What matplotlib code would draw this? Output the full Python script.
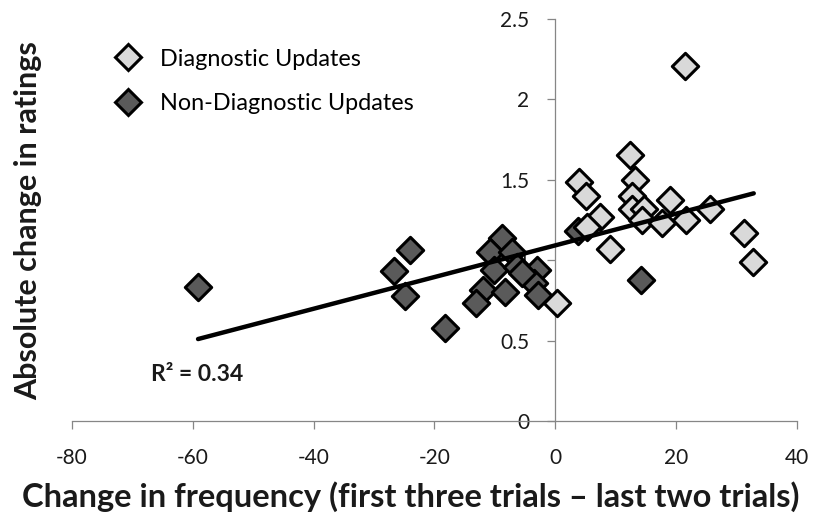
import matplotlib
matplotlib.use("Agg")
import matplotlib.pyplot as plt
from matplotlib.lines import Line2D

plt.rcParams["font.family"] = ["Lato", "DejaVu Sans"]
plt.rcParams["axes.unicode_minus"] = False

# Diagnostic updates (light diamonds)
diag_x = [12.4, 13.2, 3.9, 5.0, 7.3, 5.2, 9.1, 0.2, 12.7, 12.7,
          14.6, 14.4, 19.0, 17.7, 21.6, 25.5, 31.2, 32.7, 21.5]
diag_y = [1.655, 1.50, 1.49, 1.40, 1.27, 1.21, 1.07, 0.734, 1.40, 1.32,
          1.32, 1.25, 1.376, 1.23, 1.25, 1.32, 1.17, 0.99, 2.21]

# Non-diagnostic updates (dark diamonds)
nondiag_x = [-59.1, -24.1, -26.7, -24.8, -18.2, -8.8, -10.8, -7.2, -10.2, -6.3,
             -3.0, -11.9, -13.2, -8.3, -3.6, -2.8, -5.5, 3.7, 14.1]
nondiag_y = [0.837, 1.065, 0.937, 0.78, 0.579, 1.138, 1.055, 1.055, 0.941, 0.961,
             0.941, 0.817, 0.734, 0.806, 0.858, 0.786, 0.92, 1.18, 0.88]

# linear trend line endpoints
trend_x = [-59.1, 32.8]
trend_y = [0.512, 1.417]

x_ticks = [-80, -60, -40, -20, 0, 20, 40]
y_ticks = [0, 0.5, 1, 1.5, 2, 2.5]
y_tick_labels = ["0", "0.5", "1", "1.5", "2", "2.5"]

light = "#d9d9d9"
dark = "#5a5a5a"
axis_gray = "#868686"

fig = plt.figure(figsize=(8.21, 5.21), dpi=100)
ax = fig.add_axes([0.0873, 0.1910, 0.8838, 0.7726])

ax.scatter(nondiag_x, nondiag_y, marker="D", s=180, facecolor=dark,
           edgecolor="black", linewidths=2.2, zorder=3)
ax.scatter(diag_x, diag_y, marker="D", s=180, facecolor=light,
           edgecolor="black", linewidths=2.2, zorder=3)
ax.plot(trend_x, trend_y, color="black", linewidth=3.2,
        solid_capstyle="round", zorder=4)

ax.set_xlim(-80, 40)
ax.set_ylim(0, 2.5)
ax.set_xticks(x_ticks)
ax.set_yticks(y_ticks)
ax.set_yticklabels(y_tick_labels)

for side in ("top", "right"):
    ax.spines[side].set_visible(False)
ax.spines["left"].set_position(("data", 0))
for side in ("left", "bottom"):
    ax.spines[side].set_color(axis_gray)
    ax.spines[side].set_linewidth(0.9)
ax.tick_params(axis="both", direction="out", length=5.8, width=0.9,
               color=axis_gray, labelsize=15, labelcolor="#1a1a1a")
ax.tick_params(axis="x", pad=13)
ax.tick_params(axis="y", pad=13)

ax.text(-66.9, 0.29, "R² = 0.34", fontsize=16.5, fontweight="bold",
        ha="left", va="center", color="#1a1a1a")

handles = [
    Line2D([], [], linestyle="none", marker="D", markersize=13.4,
           markerfacecolor=light, markeredgecolor="black", markeredgewidth=2.2),
    Line2D([], [], linestyle="none", marker="D", markersize=13.4,
           markerfacecolor=dark, markeredgecolor="black", markeredgewidth=2.2),
]
fig.legend(handles, ["Diagnostic Updates", "Non-Diagnostic Updates"],
           loc="center left", bbox_to_anchor=(116 / 821, 1 - 81.5 / 521),
           frameon=False, fontsize=16.8, borderpad=0, borderaxespad=0,
           handlelength=1.03, handletextpad=0.86, labelspacing=1.02)

fig.text(411 / 821, 1 - 497 / 521,
         "Change in frequency (first three trials – last two trials)",
         ha="center", va="center", fontsize=23.5, fontweight="bold", color="#1a1a1a")
fig.text(28 / 821, 1 - 221 / 521, "Absolute change in ratings",
         ha="center", va="center", rotation=90, fontsize=22,
         fontweight="bold", color="#1a1a1a")

fig.savefig("out.png", dpi=100)
